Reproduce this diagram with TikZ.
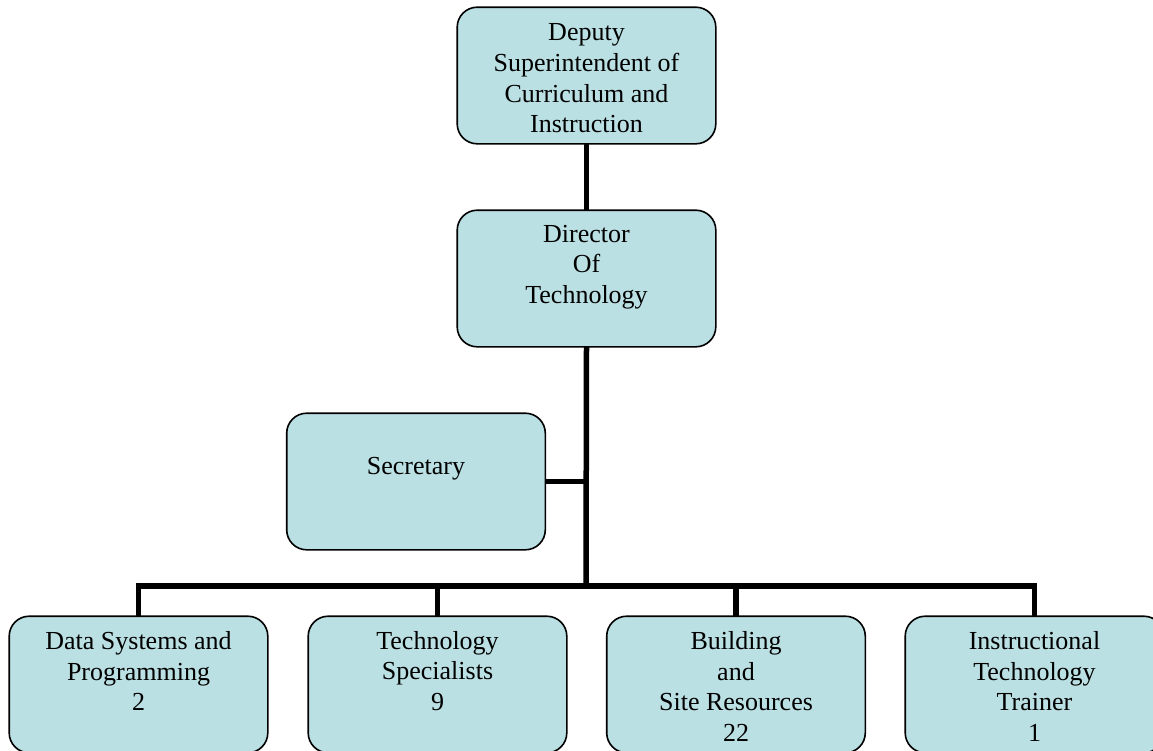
\documentclass[tikz,border=0pt]{standalone}
\usepackage{fontspec}
\setmainfont{Liberation Serif}
\definecolor{boxfill}{RGB}{187,224,227}
\tikzset{
  orgbox/.style={draw=black, line width=1.6pt, fill=boxfill, rounded corners=20pt,
    minimum width=257pt, minimum height=135pt, inner sep=0pt},
  boxtext/.style={align=center, inner sep=0pt, font=\fontsize{26}{30.7}\selectfont},
  link/.style={line width=5.5pt, line join=miter}
}
\begin{document}
\begin{tikzpicture}[x=1pt,y=-1pt]
\useasboundingbox (0,0) rectangle (1153,750);
\clip (0,0) rectangle (1153,750);
\fill[white] (0,0) rectangle (1153,750);
% box geometry (drawn after connectors)
\coordinate (bus) at (586,586);
\path (586.5,75.5) node[orgbox] (dep) {};
\path (586.5,278.5) node[orgbox] (dir) {};
\path (416,481.5) node[orgbox] (sec) {};
\path (138.5,684.5) node[orgbox] (b1) {};
\path (437.5,684.5) node[orgbox] (b2) {};
\path (736,684.5) node[orgbox] (b3) {};
\path (1034.5,684.5) node[orgbox] (b4) {};
% connectors
\draw[link] (dep.south) -- (dir.north);
\draw[link] (dir.south) -- (bus);
\draw[link] (sec.east) -- (sec.east -| bus);
\draw[link] (b1.north) |- (bus);
\draw[link] (b2.north) |- (bus);
\draw[link] (b3.north) |- (bus);
\draw[link] (b4.north) |- (bus);
% redraw boxes on top
\foreach \b in {dep,dir,sec,b1,b2,b3,b4}{
  \draw[draw=black, line width=1.6pt, fill=boxfill, rounded corners=20pt]
    (\b.north west) rectangle (\b.south east);
}
% texts
\node[boxtext] (tdep) at (586.5,78.5) {Deputy\\Superintendent of\\Curriculum and\\Instruction};
\node[boxtext] (tdir) at (586.5,267) {Director\\Of\\Technology};
\node[boxtext] (tsec) at (416,469) {Secretary};
\node[boxtext] (tb1) at (138.5,671) {Data Systems and\\Programming\\2};
\node[boxtext] (tb2) at (437.5,671) {Technology\\Specialists\\9};
\node[boxtext] (tb3) at (736,686.5) {Building\\and\\Site Resources\\22};
\node[boxtext] (tb4) at (1034.5,686.5) {Instructional\\Technology\\Trainer\\1};
\end{tikzpicture}
\end{document}
